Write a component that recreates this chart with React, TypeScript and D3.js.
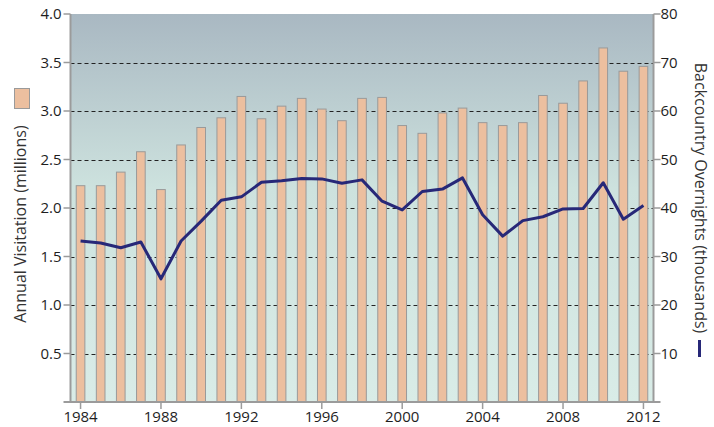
import React, { useEffect, useRef } from "react";
import * as d3 from "d3";

const years = d3.range(1984, 2013);
const visitation = [
  2.23, 2.23, 2.37, 2.58, 2.19, 2.65, 2.83, 2.93, 3.15, 2.92, 3.05, 3.13, 3.02, 2.9, 3.13,
  3.14, 2.85, 2.77, 2.98, 3.03, 2.88, 2.85, 2.88, 3.16, 3.08, 3.31, 3.65, 3.41, 3.46,
];
const overnights = [
  33.2, 32.8, 31.8, 33.0, 25.4, 33.2, 37.3, 41.6, 42.3, 45.3, 45.6, 46.1, 46.0, 45.1, 45.8,
  41.4, 39.6, 43.4, 43.9, 46.2, 38.6, 34.2, 37.4, 38.2, 39.8, 39.9, 45.2, 37.7, 40.5,
];
const leftTicks = [0.5, 1.0, 1.5, 2.0, 2.5, 3.0, 3.5, 4.0];
const rightTicks = [10, 20, 30, 40, 50, 60, 70, 80];
const yearTicks = [1984, 1988, 1992, 1996, 2000, 2004, 2008, 2012];

const W = 714, H = 427;
const m = { left: 70.5, right: 653.5, top: 14, bottom: 402 };
const FONT = "'Open Sans', sans-serif";

export default function App() {
  const ref = useRef<SVGSVGElement>(null);

  useEffect(() => {
    const svg = d3.select(ref.current);
    svg.selectAll("*").remove();

    const x = d3.scaleBand<number>().domain(years).range([m.left, m.right]).paddingInner(0.57).paddingOuter(0.285);
    const yL = d3.scaleLinear().domain([0, 4]).range([m.bottom, m.top]);
    const yR = d3.scaleLinear().domain([0, 80]).range([m.bottom, m.top]);
    const cx = (yr: number) => (x(yr) as number) + x.bandwidth() / 2;

    const defs = svg.append("defs");
    const grad = defs.append("linearGradient").attr("id", "bg").attr("x1", 0).attr("y1", 0).attr("x2", 0).attr("y2", 1);
    grad.append("stop").attr("offset", "0%").attr("stop-color", "#a9b8c2");
    grad.append("stop").attr("offset", "45%").attr("stop-color", "#cde2de");
    grad.append("stop").attr("offset", "100%").attr("stop-color", "#d9ece7");

    svg.append("rect")
      .attr("x", m.left).attr("y", m.top)
      .attr("width", m.right - m.left).attr("height", m.bottom - m.top)
      .attr("fill", "url(#bg)");

    // dashed gridlines
    svg.append("g").selectAll("line")
      .data(leftTicks.filter((t) => t < 4))
      .join("line")
      .attr("x1", m.left).attr("x2", m.right)
      .attr("y1", (d) => Math.round(yL(d)) + 0.5).attr("y2", (d) => Math.round(yL(d)) + 0.5)
      .attr("stroke", "#222").attr("stroke-width", 1).attr("stroke-dasharray", "4,3");

    // bars
    svg.append("g").selectAll("rect")
      .data(years)
      .join("rect")
      .attr("x", (d) => x(d) as number)
      .attr("y", (d, i) => yL(visitation[i]))
      .attr("width", x.bandwidth())
      .attr("height", (d, i) => m.bottom - yL(visitation[i]))
      .attr("fill", "#ecbf9f")
      .attr("stroke", "#9a9a9a").attr("stroke-width", 1);

    // line
    const line = d3.line<number>().x((d, i) => cx(years[i])).y((d) => yR(d));
    svg.append("path")
      .datum(overnights)
      .attr("d", line)
      .attr("fill", "none")
      .attr("stroke", "#272878").attr("stroke-width", 3).attr("stroke-linejoin", "round");

    // axes lines
    const axisColor = "#9b9b9b";
    const ax = svg.append("g").attr("stroke", axisColor).attr("stroke-width", 2);
    ax.append("line").attr("x1", m.left).attr("x2", m.left).attr("y1", m.top).attr("y2", m.bottom);
    ax.append("line").attr("x1", m.right).attr("x2", m.right).attr("y1", m.top).attr("y2", m.bottom);
    ax.append("line").attr("x1", m.left - 7).attr("x2", m.right + 7).attr("y1", m.bottom).attr("y2", m.bottom);

    // left ticks
    svg.append("g").selectAll("line")
      .data(leftTicks)
      .join("line")
      .attr("x1", m.left - 7).attr("x2", m.left)
      .attr("y1", (d) => yL(d)).attr("y2", (d) => yL(d))
      .attr("stroke", axisColor).attr("stroke-width", 1.5);
    svg.append("g").selectAll("text")
      .data(leftTicks)
      .join("text")
      .attr("x", m.left - 9).attr("y", (d) => yL(d)).attr("dy", "0.36em")
      .attr("text-anchor", "end")
      .attr("font-family", FONT).attr("font-size", 15).attr("fill", "#1e1e1e")
      .text((d) => d.toFixed(1));

    // right ticks
    svg.append("g").selectAll("line")
      .data(rightTicks)
      .join("line")
      .attr("x1", m.right).attr("x2", m.right + 7)
      .attr("y1", (d) => yR(d)).attr("y2", (d) => yR(d))
      .attr("stroke", axisColor).attr("stroke-width", 1.5);
    svg.append("g").selectAll("text")
      .data(rightTicks)
      .join("text")
      .attr("x", m.right + 7).attr("y", (d) => yR(d)).attr("dy", "0.36em")
      .attr("font-family", FONT).attr("font-size", 15).attr("fill", "#1e1e1e")
      .text((d) => String(d));

    // bottom ticks
    svg.append("g").selectAll("line")
      .data(yearTicks)
      .join("line")
      .attr("x1", (d) => cx(d)).attr("x2", (d) => cx(d))
      .attr("y1", m.bottom).attr("y2", m.bottom + 7)
      .attr("stroke", axisColor).attr("stroke-width", 1.5);
    svg.append("g").selectAll("text")
      .data(yearTicks)
      .join("text")
      .attr("x", (d) => cx(d)).attr("y", m.bottom + 20)
      .attr("text-anchor", "middle")
      .attr("font-family", FONT).attr("font-size", 15).attr("fill", "#1e1e1e")
      .text((d) => String(d));

    // left title + legend swatch
    svg.append("text")
      .attr("transform", `translate(26,224) rotate(-90)`)
      .attr("text-anchor", "middle")
      .attr("font-family", FONT).attr("font-size", 16).attr("fill", "#333")
      .text("Annual Visitation (millions)");
    svg.append("rect")
      .attr("x", 14.5).attr("y", 88.5).attr("width", 15).attr("height", 20)
      .attr("fill", "#ecbf9f").attr("stroke", "#9a9a9a").attr("stroke-width", 1);

    // right title + legend line
    svg.append("text")
      .attr("transform", `translate(695,198) rotate(90)`)
      .attr("text-anchor", "middle")
      .attr("font-family", FONT).attr("font-size", 16).attr("fill", "#333")
      .text("Backcountry Overnights (thousands)");
    svg.append("line")
      .attr("x1", 699.5).attr("x2", 699.5).attr("y1", 340).attr("y2", 357)
      .attr("stroke", "#272878").attr("stroke-width", 3);
  }, []);

  return (
    <svg ref={ref} width={W} height={H} style={{ position: "absolute", left: 0, top: 0 }} />
  );
}
